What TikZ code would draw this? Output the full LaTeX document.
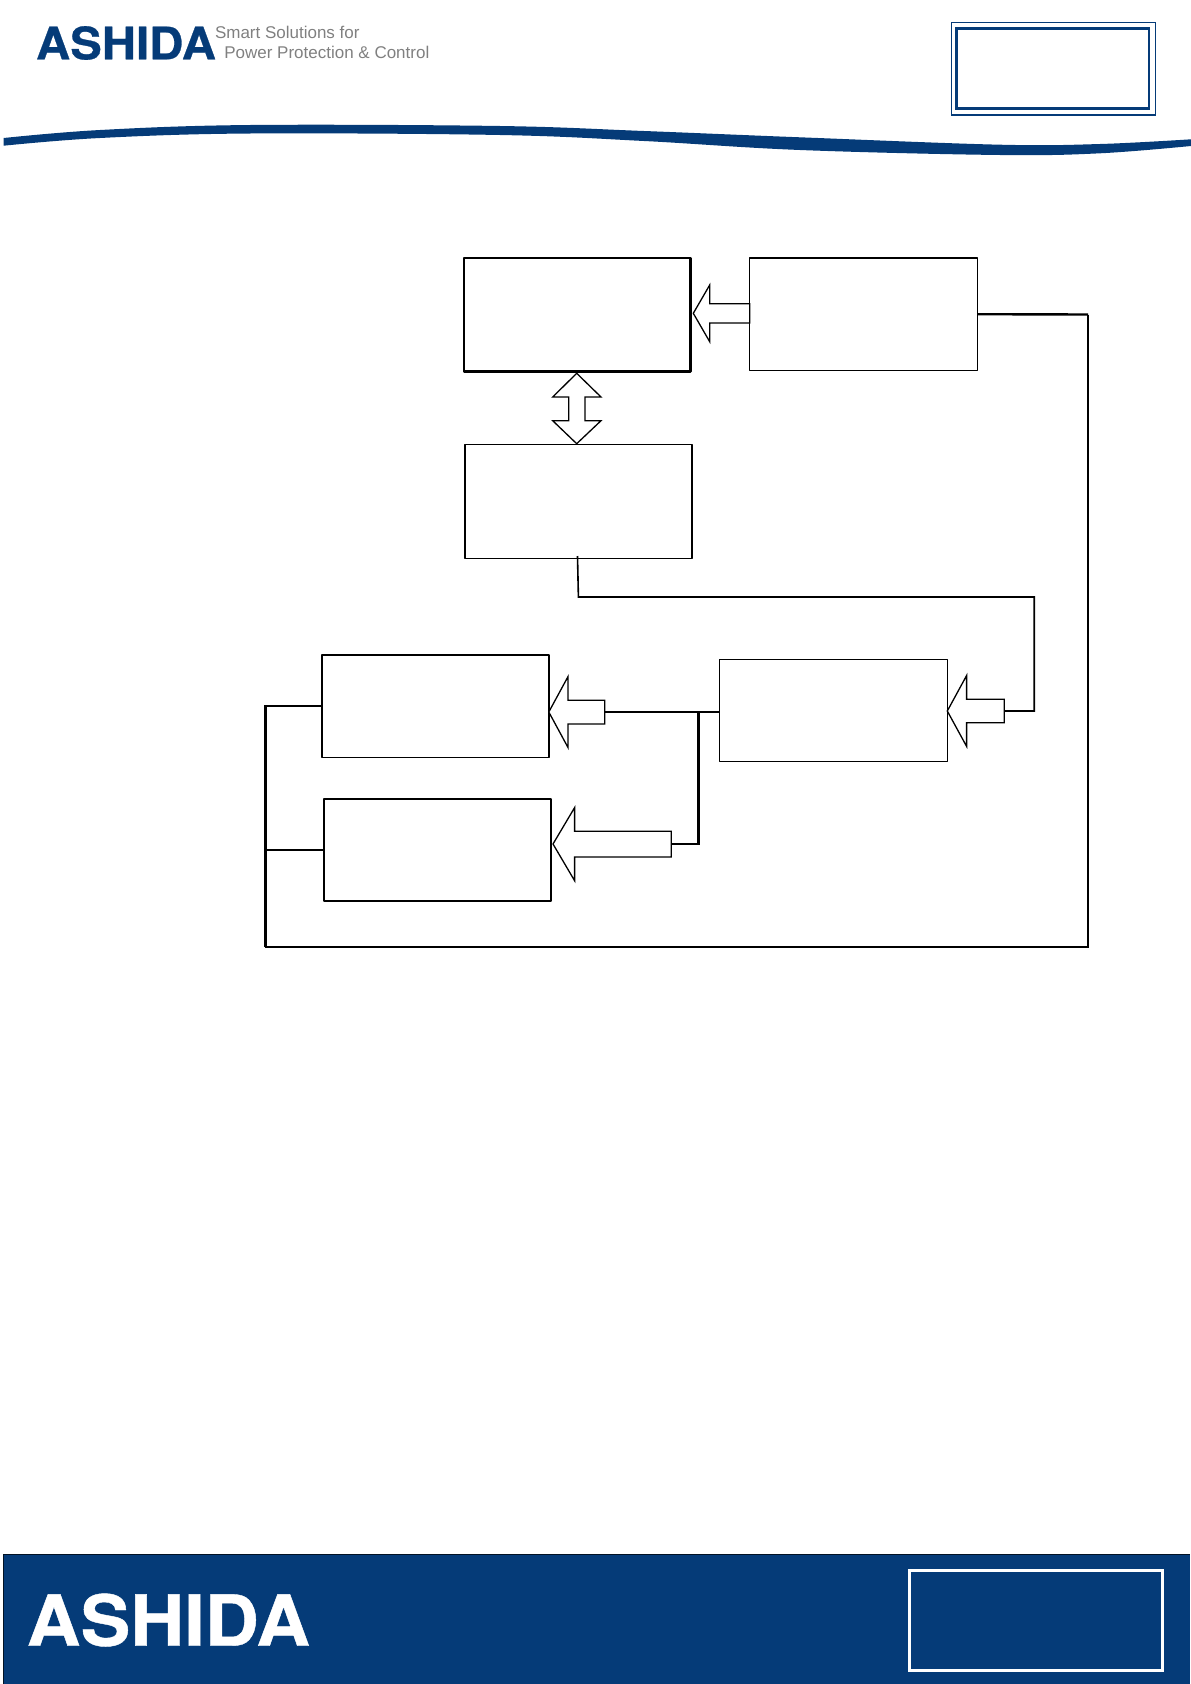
\documentclass[tikz,border=0pt]{standalone}
\usepackage{fontspec}
\setmainfont{Liberation Sans}
\newfontfamily\logofont[FakeBold=0.6]{TeX Gyre Heros Bold}
\definecolor{ashblue}{HTML}{053B78}
\definecolor{taggray}{HTML}{808080}
\tikzset{
  x=1pt,y=-1pt,
  thinbox/.style={draw=black,line width=1.5pt,fill=white,rectangle,inner sep=0pt,outer sep=0pt,line join=round},
  thickbox/.style={thinbox,line width=2.3pt},
  blockarrow/.style={draw=black,line width=1.3pt,fill=white,line join=miter},
  wire/.style={draw=black,line width=1.6pt},
  heavywire/.style={draw=black,line width=2.4pt},
  logotext/.style={inner sep=0pt,outer sep=0pt,anchor=base west},
  tagtext/.style={inner sep=0pt,outer sep=0pt,anchor=base west,text=taggray,font=\fontsize{17}{17}\selectfont}
}
\begin{document}
\begin{tikzpicture}
\useasboundingbox (0,0) rectangle (1191,1684);
% header
\node[logotext,text=ashblue] (logotop) at (36,59.3) {\scalebox{1.06}[1]{\logofont\fontsize{44.7}{44.7}\selectfont ASHIDA}};
\node[tagtext] (tagone) at (215,38.5) {Smart Solutions for};
\node[tagtext] (tagtwo) at (224.3,58.7) {Power Protection \& Control};
\fill[ashblue] plot[smooth,tension=0.6] coordinates {(3.7,138) (100,130) (250,125) (500,126) (644,131) (800,137.3) (1000,144.7) (1100,144) (1191,139.3)}
  -- plot[smooth,tension=0.6] coordinates {(1191,146) (1100,153.3) (1000,155) (800,150) (644,141) (500,135) (250,133.5) (100,138) (3.7,145.7)} -- cycle;
\draw[ashblue,line width=1.2pt] (951.3,22.7) rectangle (1155.3,115);
\draw[ashblue,line width=2.8pt] (956.7,28.3) rectangle (1149,108.3);
% footer
\fill[ashblue] (3.3,1554.3) rectangle (1190,1684);
\draw[black!70!ashblue,line width=0.8pt] (3.3,1684) -- (3.3,1554.3) -- (1190,1554.3);
\node[logotext,text=white] (logobottom) at (26.7,1645.7) {\scalebox{1.06}[1]{\logofont\fontsize{70.4}{70.4}\selectfont ASHIDA}};
\draw[white,line width=3pt] (909.7,1570) rectangle (1162.7,1670);
% boxes
\node[thickbox,minimum width=226.6pt,minimum height=113.6pt] (A) at (577.3,314.8) {};
\node[thinbox,minimum width=227.6pt,minimum height=112.7pt] (B) at (863.5,314.2) {};
\node[thinbox,minimum width=226.7pt,minimum height=113.9pt] (C) at (578.4,501.6) {};
\node[thinbox,minimum width=226.6pt,minimum height=102.1pt] (D) at (435.5,706.2) {};
\node[thinbox,minimum width=227.2pt,minimum height=102pt] (E) at (437.4,850) {};
\node[thinbox,minimum width=227.7pt,minimum height=102.1pt] (F) at (833.5,710.5) {};
% coordinates
\coordinate (arrFtail) at (1004.2,711);
\coordinate (arrDtail) at (604.7,712);
\coordinate (arrEtail) at (671.3,844);
\coordinate (busF) at (1034.2,711);
\coordinate (busFtop) at (1034.2,597);
\coordinate (busC) at (C.south |- busFtop);
\coordinate (cstub) at (577.5,556);
\coordinate (branch) at (698.6,712);
\coordinate (branchlow) at (698.6,844);
\coordinate (rightcorner) at (1088,314.5);
\coordinate (rightlow) at (1088,947);
\coordinate (leftlow) at (265.3,947);
\coordinate (leftE) at (265.3,850);
\coordinate (leftD) at (265.3,706.2);
% block arrows
\path[blockarrow] (693.3,313.3) -- (709.7,285) -- (709.7,303.7) -- (749.7,303.7) -- (749.7,323) -- (709.7,323) -- (709.7,341.7) -- cycle;
\path[blockarrow] (576.7,373.3) -- (601,397) -- (585,397) -- (585,420.7) -- (601,420.7) -- (576.7,443.7) -- (552.7,420.7) -- (568.7,420.7) -- (568.7,397) -- (552.7,397) -- cycle;
\path[blockarrow] (947.3,711) -- (966.6,675.5) -- (966.6,699.2) -- (1004.2,699.2) -- (1004.2,722.8) -- (966.6,722.8) -- (966.6,746.4) -- cycle;
\path[blockarrow] (548.8,712) -- (568,676.6) -- (568,700.2) -- (604.7,700.2) -- (604.7,723.9) -- (568,723.9) -- (568,747.5) -- cycle;
\path[blockarrow] (553,844) -- (574.6,807.6) -- (574.6,831.3) -- (671.3,831.3) -- (671.3,857) -- (574.6,857) -- (574.6,880.7) -- cycle;
% connectors
\draw[wire] (cstub) -- (busC) -- (busFtop) -- (busF) -- (arrFtail);
\draw[wire] (arrDtail) -- (arrDtail -| F.west);
\draw[heavywire] (branch) -- (branchlow) -- (arrEtail);
\draw[heavywire] (B.east) -- (rightcorner);
\draw[wire] (rightcorner) -- (rightlow) -- (leftlow);
\draw[heavywire] (leftlow) -- (leftD) -- (D.west);
\draw[wire] (leftE) -- (E.west);
\end{tikzpicture}
\end{document}
